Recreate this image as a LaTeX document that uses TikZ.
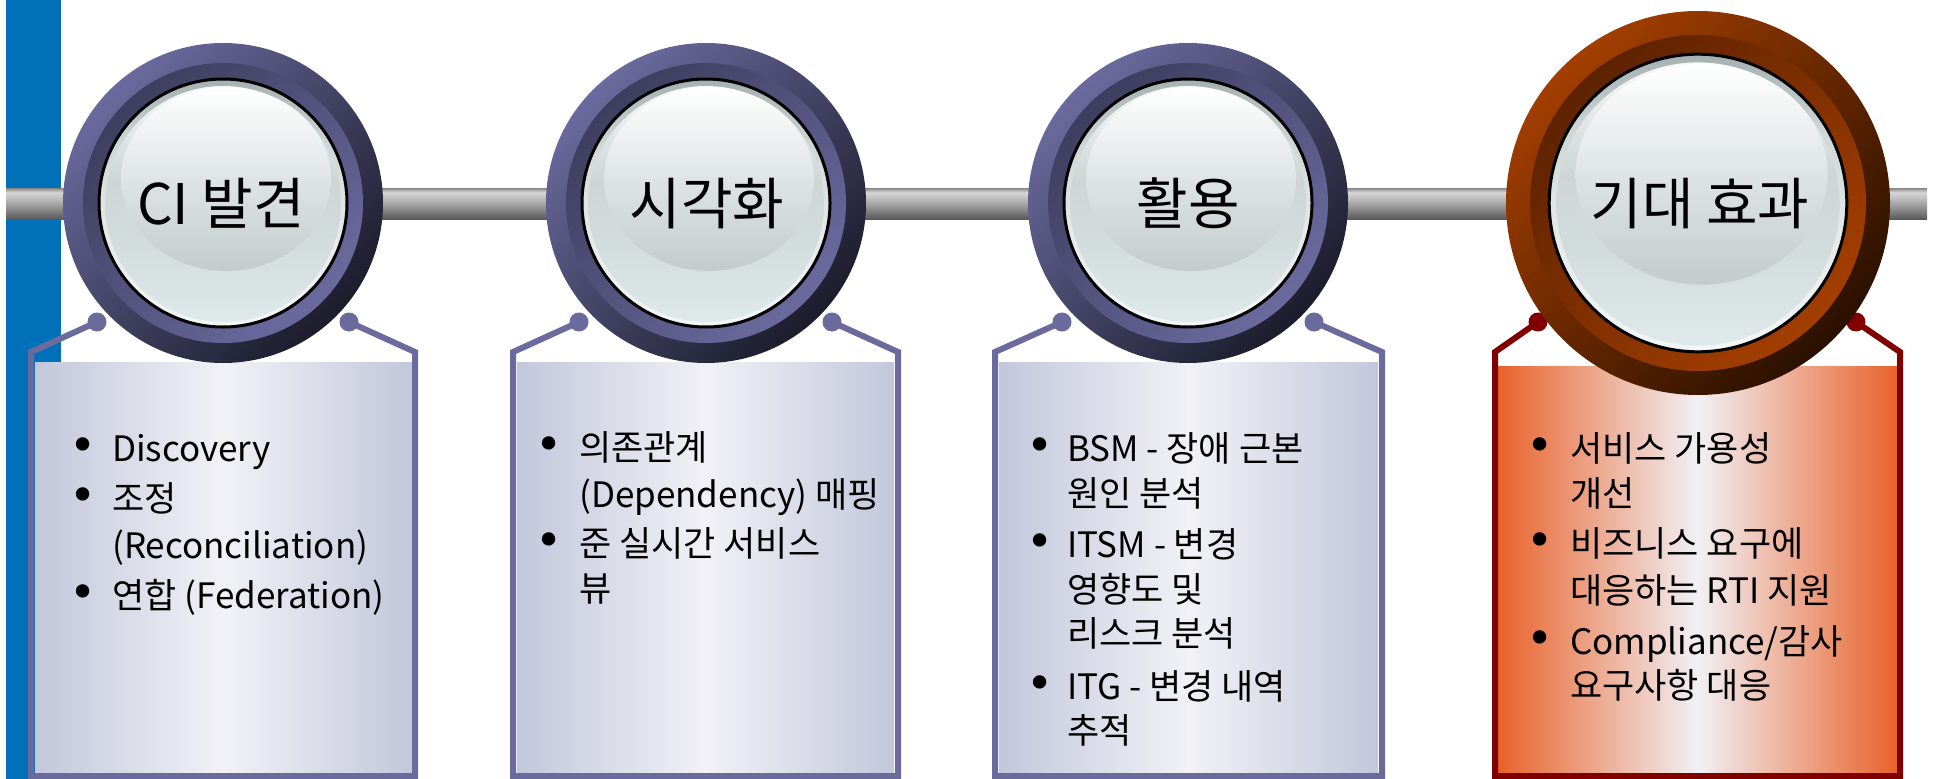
\documentclass[tikz,border=0pt]{standalone}
\usepackage{fontspec}
\setmainfont{Noto Sans CJK KR}
\newfontfamily\bulfont{DejaVu Sans}
\usetikzlibrary{calc}

\definecolor{barblue}{HTML}{0071B9}
\definecolor{pOutL}{HTML}{6A6A9E}
\definecolor{pOutD}{HTML}{1C1C2C}
\definecolor{pInL}{HTML}{6A6A9E}
\definecolor{pInD}{HTML}{3E3E60}
\definecolor{oOutL}{HTML}{A33E00}
\definecolor{oOutD}{HTML}{2A1000}
\definecolor{oInL}{HTML}{A33E00}
\definecolor{oInD}{HTML}{5E2200}
\definecolor{pBorder}{HTML}{6A6A9C}
\definecolor{oBorder}{HTML}{800000}
\definecolor{pFillE}{HTML}{C3C7DB}
\definecolor{pFillM}{HTML}{F1F1F6}
\definecolor{oFillE}{HTML}{E8622A}
\definecolor{oFillM}{HTML}{F1F0F5}
\definecolor{pipeA}{HTML}{595959}
\definecolor{pipeB}{HTML}{787878}
\definecolor{pipeC}{HTML}{A6A6A6}
\definecolor{pipeD}{HTML}{C8C8C8}
\definecolor{pipeE}{HTML}{D6D6D6}
\definecolor{pipeF}{HTML}{A8A8A8}
\definecolor{pipeG}{HTML}{858585}
\definecolor{rimA}{HTML}{F2F6F6}
\definecolor{rimB}{HTML}{E4EAEA}
\definecolor{rimC}{HTML}{CED6D6}
\definecolor{rimD}{HTML}{A6B0B0}
\definecolor{glA}{HTML}{E0E9E9}
\definecolor{glB}{HTML}{D3DCDC}
\definecolor{glC}{HTML}{CDD5D5}
\definecolor{glD}{HTML}{F6F8F8}
\definecolor{hiA}{HTML}{C3CCCC}
\definecolor{hiB}{HTML}{D8DFDF}
\definecolor{hiC}{HTML}{FFFFFF}

\pgfdeclareverticalshading{pipeshade}{100bp}{color(0bp)=(pipeA); color(25bp)=(pipeA); color(35bp)=(pipeB); color(50bp)=(pipeC); color(62bp)=(pipeD); color(68bp)=(pipeE); color(72bp)=(pipeF); color(75bp)=(pipeG); color(100bp)=(pipeG)}
\pgfdeclareverticalshading{rimshade}{100bp}{color(0bp)=(rimA); color(25bp)=(rimA); color(45bp)=(rimB); color(62bp)=(rimC); color(75bp)=(rimD); color(100bp)=(rimD)}
\pgfdeclareverticalshading{glassshade}{100bp}{color(0bp)=(glA); color(25bp)=(glA); color(42bp)=(glB); color(55bp)=(glC); color(75bp)=(glD); color(100bp)=(glD)}
\pgfdeclareverticalshading{hishade}{100bp}{color(0bp)=(hiA); color(25bp)=(hiA); color(45bp)=(hiB); color(75bp)=(hiC); color(100bp)=(hiC)}

\tikzset{
  ring/.style={circle, inner sep=0pt, outer sep=0pt},
  glassedge/.style={circle, inner sep=0pt, outer sep=0pt, draw=black, line width=3pt},
  dotnode/.style={circle, inner sep=0pt, outer sep=0pt, minimum size=19pt},
  pline/.style={draw=pBorder, line width=6pt, line join=miter},
  oline/.style={draw=oBorder, line width=6pt, line join=miter},
  fillbox/.style={rectangle, inner sep=0pt, outer sep=0pt, anchor=north},
  title/.style={anchor=base, inner sep=0pt, font=\fontsize{56}{66}\selectfont},
  itemtext/.style={anchor=base west, inner sep=0pt, font=\fontsize{35}{42}\selectfont},
  bul/.style={anchor=base, inner sep=0pt, font=\bulfont\fontsize{46}{52}\selectfont},
}

\newcommand\stage[4]{%
  \pgfmathsetmacro\stgA{320*#3}%
  \pgfmathsetmacro\stgB{280*#3}%
  \pgfmathsetmacro\stgC{248*#3}%
  \pgfmathsetmacro\stgD{118*#3}%
  \pgfmathsetmacro\stgX{#2+3*#3}%
  \pgfmathsetmacro\stgY{203-24*#3}%
  \pgfmathsetmacro\stgRX{105*#3}%
  \pgfmathsetmacro\stgRY{92*#3}%
  \node[ring, top color=#4OutL, bottom color=#4OutD, shading angle=45, minimum size=\stgA pt] (#1) at (#2,203) {};
  \node[ring, top color=#4InD, bottom color=#4InL, shading angle=45, minimum size=\stgB pt] (#1i) at (#1.center) {};
  \node[ring, shade, shading=rimshade, minimum size=\stgC pt] (#1g) at (#1.center) {};
  \shade[shading=glassshade] (#2,204) circle[radius=\stgD pt];
  \shade[shading=hishade] (\stgX,\stgY) ellipse[x radius=\stgRX pt, y radius=\stgRY pt];
  \node[glassedge, minimum size=\stgC pt] (#1e) at (#1.center) {};
}

\begin{document}
\begin{tikzpicture}[x=1pt,y=-1pt]
\useasboundingbox (0,0) rectangle (1933,779);
\fill[white] (0,0) rectangle (1933,779);

% blue bar
\fill[barblue] (6,0) rectangle (61,779);

% pipe
\shade[shading=pipeshade] (6,188) rectangle (1927,219);

% boxes
\node[fillbox, left color=pFillE, right color=pFillE, middle color=pFillM, minimum width=377pt, minimum height=411pt] (b1) at (223.5,362) {};
\node[fillbox, left color=pFillE, right color=pFillE, middle color=pFillM, minimum width=377pt, minimum height=411pt] (b2) at (705.5,362) {};
\node[fillbox, left color=pFillE, right color=pFillE, middle color=pFillM, minimum width=379pt, minimum height=411pt] (b3) at (1188.5,362) {};
\node[fillbox, left color=oFillE, right color=oFillE, middle color=oFillM, minimum width=399pt, minimum height=407pt] (b4) at (1697.5,366) {};

% box borders
\node[dotnode, fill=pBorder] (d1l) at (97,322) {};
\node[dotnode, fill=pBorder] (d1r) at (349,322) {};
\coordinate (k1a) at (31,352); \coordinate (k1b) at (31,776);
\coordinate (k1c) at (415,776); \coordinate (k1d) at (415,352);
\draw[pline] (d1l.center) -- (k1a) -- (k1b) -- (k1c) -- (k1d) -- (d1r.center);

\node[dotnode, fill=pBorder] (d2l) at (579,322) {};
\node[dotnode, fill=pBorder] (d2r) at (832,322) {};
\coordinate (k2a) at (513,352); \coordinate (k2b) at (513,776);
\coordinate (k2c) at (898,776); \coordinate (k2d) at (898,352);
\draw[pline] (d2l.center) -- (k2a) -- (k2b) -- (k2c) -- (k2d) -- (d2r.center);

\node[dotnode, fill=pBorder] (d3l) at (1062,322) {};
\node[dotnode, fill=pBorder] (d3r) at (1314,322) {};
\coordinate (k3a) at (995,352); \coordinate (k3b) at (995,776);
\coordinate (k3c) at (1382,776); \coordinate (k3d) at (1382,352);
\draw[pline] (d3l.center) -- (k3a) -- (k3b) -- (k3c) -- (k3d) -- (d3r.center);

\node[dotnode, fill=oBorder] (d4l) at (1538,322) {};
\node[dotnode, fill=oBorder] (d4r) at (1856,322) {};
\coordinate (k4a) at (1495,352); \coordinate (k4b) at (1495,776);
\coordinate (k4c) at (1900,776); \coordinate (k4d) at (1900,352);
\draw[oline] (d4l.center) -- (k4a) -- (k4b) -- (k4c) -- (k4d) -- (d4r.center);

% circles
\stage{c1}{223}{1}{p}
\stage{c2}{706}{1}{p}
\stage{c3}{1188}{1}{p}
\stage{c4}{1698}{1.2}{o}

% titles
\node[title] (t1) at (221,224) {CI 발견};
\node[title] (t2) at (707,224) {시각화};
\node[title] (t3) at (1188,224) {활용};
\node[title] (t4) at (1700,224) {기대 효과};

% box 1 text
\node[bul] (u11) at (83,461) {•};
\node[itemtext] (l11) at (112,461) {Discovery};
\node[bul] (u12) at (83,511) {•};
\node[itemtext] (l12) at (112,511) {조정};
\node[itemtext] (l13) at (112,558) {(Reconciliation)};
\node[bul] (u13) at (83,608) {•};
\node[itemtext] (l14) at (112,608) {연합 (Federation)};

% box 2 text
\node[bul] (u21) at (549,460) {•};
\node[itemtext] (l21) at (579,460) {의존관계};
\node[itemtext] (l22) at (579,507) {(Dependency) 매핑};
\node[bul] (u22) at (549,556) {•};
\node[itemtext] (l23) at (579,556) {준 실시간 서비스};
\node[itemtext] (l24) at (579,601) {뷰};

% box 3 text
\node[bul] (u31) at (1040,461) {•};
\node[itemtext] (l31) at (1067,461) {BSM - 장애 근본};
\node[itemtext] (l32) at (1067,506) {원인 분석};
\node[bul] (u32) at (1040,557) {•};
\node[itemtext] (l33) at (1067,557) {ITSM - 변경};
\node[itemtext] (l34) at (1067,602) {영향도 및};
\node[itemtext] (l35) at (1067,646) {리스크 분석};
\node[bul] (u33) at (1040,699) {•};
\node[itemtext] (l36) at (1067,699) {ITG - 변경 내역};
\node[itemtext] (l37) at (1067,743) {추적};

% box 4 text
\node[bul] (u41) at (1540,461) {•};
\node[itemtext] (l41) at (1570,461) {서비스 가용성};
\node[itemtext] (l42) at (1570,506) {개선};
\node[bul] (u42) at (1540,556) {•};
\node[itemtext] (l43) at (1570,556) {비즈니스 요구에};
\node[itemtext] (l44) at (1570,603) {대응하는 RTI 지원};
\node[bul] (u43) at (1540,654) {•};
\node[itemtext] (l45) at (1570,654) {Compliance/감사};
\node[itemtext] (l46) at (1570,698) {요구사항 대응};
\end{tikzpicture}
\end{document}
